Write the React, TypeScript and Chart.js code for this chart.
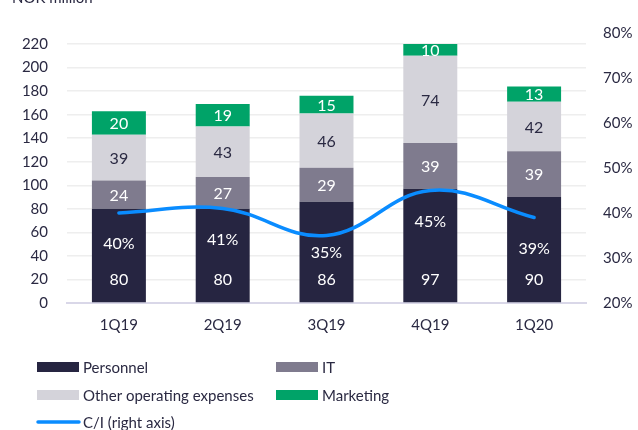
import React, { useEffect, useRef } from 'react';
import { Chart, registerables } from 'chart.js';

Chart.register(...registerables);

const categories = ['1Q19', '2Q19', '3Q19', '4Q19', '1Q20'];
const personnel = [80, 80, 86, 97, 90];
const it = [24, 27, 29, 39, 39];
const other = [39, 43, 46, 74, 42];
const marketing = [20, 19, 15, 10, 13];
const costIncome = [40, 41, 35, 45, 39];
const leftTickValues = [0, 20, 40, 60, 80, 100, 120, 140, 160, 180, 200, 220];
const rightTickValues = [20, 30, 40, 50, 60, 70, 80];
const unitLabel = 'NOK million';

const FONT = 'Lato, "Open Sans", sans-serif';
const TEXT = '#2a2942';
const C_PERS = '#262541';
const C_IT = '#7f7b8e';
const C_OTHER = '#d4d3da';
const C_MKT = '#00a368';
const C_LINE = '#0a8cff';

const legendItems = [
  { label: 'Personnel', color: C_PERS, kind: 'box', col: 0, row: 0 },
  { label: 'IT', color: C_IT, kind: 'box', col: 1, row: 0 },
  { label: 'Other operating expenses', color: C_OTHER, kind: 'box', col: 0, row: 1 },
  { label: 'Marketing', color: C_MKT, kind: 'box', col: 1, row: 1 },
  { label: 'C/I (right axis)', color: C_LINE, kind: 'line', col: 0, row: 2 },
];

const labelsPlugin = {
  id: 'customLabels',
  afterDatasetsDraw(chart: any) {
    const ctx = chart.ctx;
    const y = chart.scales.y;
    const y2 = chart.scales.y2;
    const x = chart.scales.x;
    ctx.save();
    ctx.font = `16px ${FONT}`;
    ctx.textAlign = 'center';
    ctx.textBaseline = 'middle';
    const stacks = [personnel, it, other, marketing];
    const colors = ['#ffffff', '#ffffff', TEXT, '#ffffff'];
    categories.forEach((_, j) => {
      const cx = x.getPixelForValue(j);
      let base = 0;
      stacks.forEach((arr, d) => {
        const v = arr[j];
        ctx.fillStyle = colors[d];
        if (d === 0) {
          const valY = y.getPixelForValue(0) - 23;
          ctx.fillText(String(v), cx, valY);
          const lineY = y2.getPixelForValue(costIncome[j]);
          const pY = Math.min(lineY + 31, valY - 27);
          ctx.fillText(`${costIncome[j]}%`, cx, pY);
        } else {
          ctx.fillText(String(v), cx, y.getPixelForValue(base + v / 2) + 1);
        }
        base += v;
      });
    });
    ctx.restore();
  },
  afterDraw(chart: any) {
    const ctx = chart.ctx;
    ctx.save();
    ctx.font = `15px ${FONT}`;
    ctx.fillStyle = TEXT;
    ctx.textAlign = 'left';
    ctx.textBaseline = 'alphabetic';
    ctx.fillText(unitLabel, 12, 3);
    const colX = [37, 276];
    const rowY = [367, 395, 422];
    ctx.textBaseline = 'middle';
    legendItems.forEach((it2) => {
      const x0 = colX[it2.col];
      const yc = rowY[it2.row];
      if (it2.kind === 'box') {
        ctx.fillStyle = it2.color;
        ctx.fillRect(x0, yc - 5, 42, 10);
      } else {
        ctx.strokeStyle = it2.color;
        ctx.lineWidth = 3.5;
        ctx.lineCap = 'round';
        ctx.beginPath();
        ctx.moveTo(x0 + 1, yc);
        ctx.lineTo(x0 + 42, yc);
        ctx.stroke();
      }
      ctx.fillStyle = TEXT;
      ctx.fillText(it2.label, x0 + 46, yc + 1);
    });
    ctx.restore();
  },
};

export default function App() {
  const ref = useRef<HTMLCanvasElement | null>(null);
  useEffect(() => {
    if (!ref.current) return;
    const chart = new Chart(ref.current, {
      type: 'bar',
      data: {
        labels: categories,
        datasets: [
          { type: 'line', label: 'C/I (right axis)', data: costIncome, yAxisID: 'y2', borderColor: C_LINE, borderWidth: 3.5, tension: 0.4, pointRadius: 0, borderCapStyle: 'round', order: 0, fill: false } as any,
          { label: 'Personnel', data: personnel, backgroundColor: C_PERS, yAxisID: 'y', order: 1, stack: 's' },
          { label: 'IT', data: it, backgroundColor: C_IT, yAxisID: 'y', order: 1, stack: 's' },
          { label: 'Other operating expenses', data: other, backgroundColor: C_OTHER, yAxisID: 'y', order: 1, stack: 's' },
          { label: 'Marketing', data: marketing, backgroundColor: C_MKT, yAxisID: 'y', order: 1, stack: 's' },
        ],
      },
      options: {
        responsive: false,
        animation: false,
        layout: { padding: { top: 33, left: 0, right: 0, bottom: 0 } },
        datasets: { bar: { barPercentage: 0.52, categoryPercentage: 1 } },
        plugins: { legend: { display: false }, tooltip: { enabled: false } },
        scales: {
          x: {
            stacked: true,
            grid: { display: false, drawTicks: false },
            border: { display: true, color: '#d9d7e8', width: 2 },
            ticks: { color: TEXT, font: { family: FONT, size: 15 }, padding: 13 },
            afterFit(scale: any) { scale.height = 127; },
          },
          y: {
            stacked: true,
            position: 'left',
            min: 0,
            max: 229.4,
            grid: { color: '#eeeeee', lineWidth: 1.5, drawTicks: false },
            border: { display: false },
            ticks: { color: TEXT, font: { family: FONT, size: 15 }, padding: 19, stepSize: 20 },
            afterBuildTicks(scale: any) { scale.ticks = leftTickValues.map((v) => ({ value: v })); },
            afterFit(scale: any) { scale.width = 67; },
          },
          y2: {
            position: 'right',
            min: 20,
            max: 80,
            grid: { display: false, drawTicks: false },
            border: { display: false },
            ticks: { color: TEXT, font: { family: FONT, size: 15 }, padding: 17, callback: (v: any) => `${v}%` },
            afterBuildTicks(scale: any) { scale.ticks = rightTickValues.map((v) => ({ value: v })); },
            afterFit(scale: any) { scale.width = 52; },
          },
        },
      },
      plugins: [labelsPlugin],
    });
    return () => chart.destroy();
  }, []);
  return (
    <div style={{ position: 'fixed', left: 0, top: 0, width: 638, height: 430, background: '#fff' }}>
      <canvas ref={ref} width={638} height={430} style={{ display: 'block' }} />
    </div>
  );
}
